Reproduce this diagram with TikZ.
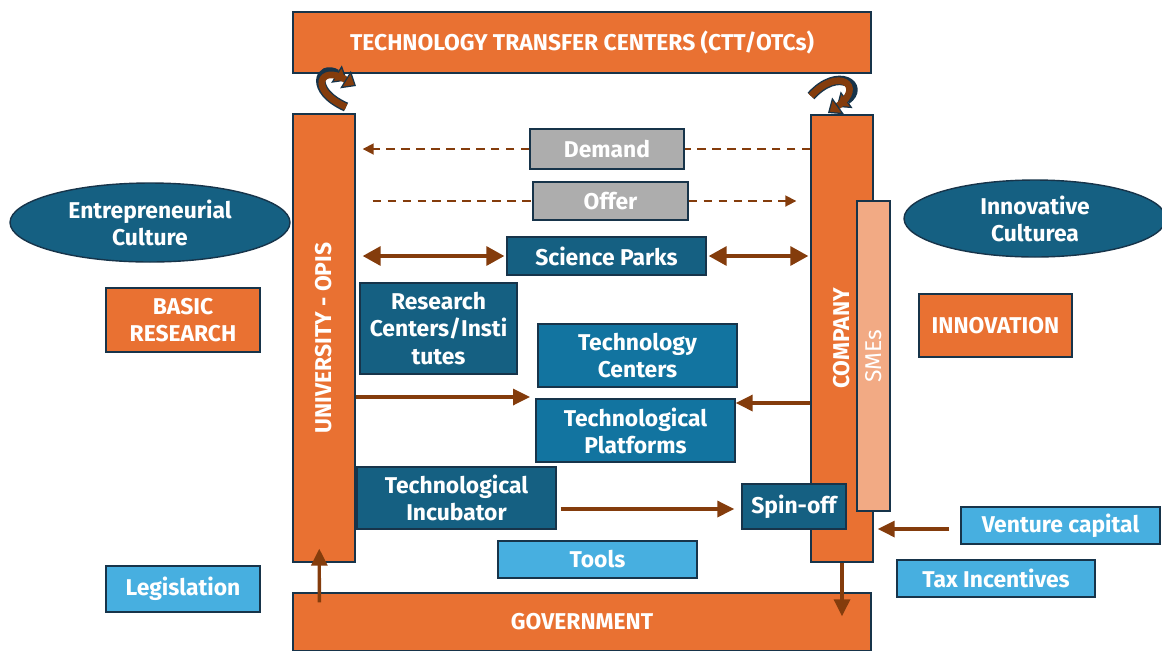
\documentclass[tikz,border=0pt]{standalone}
\usepackage{fontspec}
\setmainfont{Fira Sans}
\usetikzlibrary{arrows.meta,shapes.geometric,calc}
\definecolor{ttorange}{HTML}{E97132}
\definecolor{ttdark}{HTML}{156082}
\definecolor{ttmid}{HTML}{1274A0}
\definecolor{ttlight}{HTML}{47AFE0}
\definecolor{ttgray}{HTML}{ADADAD}
\definecolor{ttsme}{HTML}{F2AA84}
\definecolor{ttbrown}{HTML}{843C0C}
\definecolor{ttline}{HTML}{17344A}
\begin{document}
\begin{tikzpicture}[
    x=0.02cm, y=-0.02cm,
    font=\fontsize{13}{15.4}\selectfont\bfseries,
    box/.style={draw=ttline, line width=0.8pt, text=white, align=center, inner sep=0pt},
    orangebox/.style={box, fill=ttorange},
    darkbox/.style={box, fill=ttdark},
    midbox/.style={box, fill=ttmid},
    lightbox/.style={box, fill=ttlight},
    graybox/.style={box, fill=ttgray},
    bubble/.style={ellipse, draw=ttline, line width=0.8pt, fill=ttdark, text=white, align=center, inner sep=0pt},
    flow/.style={draw=ttbrown, line width=1.9pt, -{Triangle[length=0.34cm,width=0.32cm]}},
    twoway/.style={draw=ttbrown, line width=1.9pt, {Triangle[length=0.36cm,width=0.38cm]}-{Triangle[length=0.36cm,width=0.38cm]}},
    dashflow/.style={draw=ttbrown, line width=1pt, dash pattern=on 5pt off 3.5pt},
    curl/.style={draw=ttbrown, line width=3.8pt,
      -{Triangle[length=7pt,width=11.5pt,color=ttline,fill=ttbrown,line width=0.7pt]},
      preaction={draw=ttline, line width=5.4pt, shorten >=6pt}}
  ]
  \useasboundingbox (0,0) rectangle (1162,650);

  % Main frame
  \node[orangebox, minimum width=11.56cm, minimum height=1.22cm] (ctt) at (582,42.5) {TECHNOLOGY TRANSFER CENTERS (CTT/OTCs)};
  \node[orangebox, minimum width=11.56cm, minimum height=1.16cm] (gov) at (582,622) {GOVERNMENT};
  \node[orangebox, minimum width=1.24cm, minimum height=8.96cm] (univ) at (324,338) {};
  \node[rotate=90, text=white] at (univ) {UNIVERSITY - OPIS};
  \node[orangebox, minimum width=1.24cm, minimum height=8.94cm] (comp) at (842,338.5) {};
  \node[rotate=90, text=white] at (comp) {COMPANY};
  \node[box, fill=ttsme, minimum width=0.66cm, minimum height=6.2cm] (smes) at (873.5,356) {};
  \node[rotate=90, text=white, font=\fontsize{13}{15.4}\selectfont] at (smes) {SMEs};

  % Side labels
  \node[bubble, minimum width=5.6cm, minimum height=1.58cm] (entc) at (150,222.5) {Entrepreneurial\\Culture};
  \node[bubble, minimum width=5.24cm, minimum height=1.54cm] (innc) at (1035,218.5) {Innovative\\Culturea};
  \node[orangebox, minimum width=3.08cm, minimum height=1.28cm] (basic) at (183,320) {BASIC\\RESEARCH};
  \node[orangebox, minimum width=3.06cm, minimum height=1.26cm] (innov) at (995.5,325.5) {INNOVATION};
  \node[lightbox, minimum width=3.08cm, minimum height=0.92cm] (legis) at (183,589) {Legislation};
  \node[lightbox, minimum width=3.98cm, minimum height=0.74cm] (venture) at (1060.5,525.5) {Venture capital};
  \node[lightbox, minimum width=3.96cm, minimum height=0.74cm] (tax) at (996,578.5) {Tax Incentives};

  % Inner boxes
  \node[graybox, minimum width=3.08cm, minimum height=0.8cm] (demand) at (607,149) {Demand};
  \node[graybox, minimum width=3.1cm, minimum height=0.76cm] (offer) at (610.5,201) {Offer};
  \node[darkbox, minimum width=3.98cm, minimum height=0.76cm] (sci) at (606.5,256) {Science Parks};
  \node[darkbox, minimum width=3.14cm, minimum height=1.82cm] (resc) at (438.5,328.5) {Research\\Centers/Insti\\tutes};
  \node[midbox, minimum width=3.98cm, minimum height=1.26cm] (techc) at (637.5,355.5) {Technology\\Centers};
  \node[midbox, minimum width=3.98cm, minimum height=1.26cm] (techp) at (635.5,430.5) {Technological\\Platforms};
  \node[darkbox, minimum width=3.98cm, minimum height=1.24cm] (incub) at (456.5,498) {Technological\\Incubator};
  \node[darkbox, minimum width=2.08cm, minimum height=0.9cm] (spin) at (794,506.5) {Spin-off};
  \node[lightbox, minimum width=3.98cm, minimum height=0.74cm] (tools) at (597.5,559.5) {Tools};
  \coordinate (tcin) at (530,397);

  % Connectors
  \draw[dashflow] (comp.west |- demand.east) -- (demand.east);
  \draw[dashflow, -{Triangle[length=0.22cm,width=0.22cm]}, shorten >=0.14cm] (demand.west) -- (univ.east |- demand.west);
  \draw[dashflow, shorten <=0.34cm] (univ.east |- offer.west) -- (offer.west);
  \draw[dashflow, -{Triangle[length=0.22cm,width=0.22cm]}, shorten >=0.28cm] (offer.east) -- (comp.west |- offer.east);
  \draw[twoway, shorten <=0.14cm, shorten >=0.04cm] (univ.east |- sci.west) -- (sci.west);
  \draw[twoway, shorten <=0.04cm, shorten >=0.04cm] (sci.east) -- (comp.west |- sci.east);
  \draw[flow] (univ.east |- tcin) -- (tcin);
  \draw[flow] (comp.west |- 0,403) -- (techp.east |- 0,403);
  \draw[flow, shorten <=0.08cm, shorten >=0.14cm] (incub.east |- 0,509) -- (spin.west |- 0,509);
  \draw[flow, shorten <=0.22cm, shorten >=0.08cm] (venture.west |- 0,529) -- (comp.east |- 0,529);
  \draw[flow] ([xshift=0.54cm,yshift=-0.2cm]gov.north west) -- ([xshift=0.54cm,yshift=0.28cm]univ.south west);
  \draw[flow] (comp.south) -- ([yshift=-0.48cm]comp.south |- gov.north);

  % Curved arrows to the transfer centers
  \draw[curl] (346,107) .. controls (308,90) and (320,64) .. (356,86);
  \draw[curl] (811,96) .. controls (838,66) and (866,86) .. (828,113);
\end{tikzpicture}
\end{document}
